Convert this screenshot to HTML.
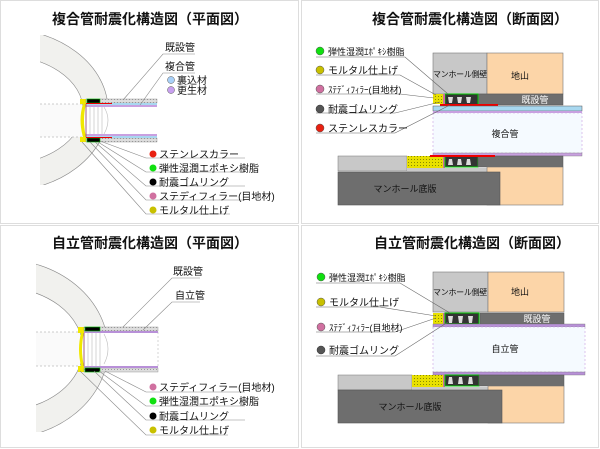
<!DOCTYPE html>
<html><head><meta charset="utf-8"><style>
html,body{margin:0;padding:0;background:#fff}
svg{display:block}
text{font-family:"Liberation Sans","Noto Sans CJK JP",sans-serif;}
.t{font-size:14px;font-weight:bold;fill:#111;text-anchor:middle}
.l{font-size:10px;fill:#111}
.s{font-size:9px;fill:#111}
.m{font-size:8px;fill:#111;letter-spacing:-0.3px}
</style></head><body>
<svg width="600" height="449" viewBox="0 0 600 449" xmlns="http://www.w3.org/2000/svg">
<defs>
<pattern id="hy" width="3" height="3" patternUnits="userSpaceOnUse"><rect width="3" height="3" fill="#e8e000"/><rect width="1" height="1" fill="#8a8a00"/></pattern>
<pattern id="gr" width="3" height="3" patternUnits="userSpaceOnUse"><rect width="3" height="3" fill="#ddd"/><rect width="1" height="1" fill="#999"/></pattern>
</defs>
<rect x="0.5" y="0.5" width="298" height="223" fill="#fff" stroke="#ddd"/>
<rect x="301.5" y="0.5" width="297" height="223" fill="#fff" stroke="#ddd"/>
<rect x="0.5" y="225.5" width="298" height="222" fill="#fff" stroke="#ddd"/>
<rect x="301.5" y="225.5" width="297" height="222" fill="#fff" stroke="#ddd"/>

<!-- TOP LEFT -->
<text class="t" x="150" y="24">複合管耐震化構造図（平面図）</text>
<clipPath id="c1"><rect x="40" y="35" width="200" height="150"/></clipPath>
<g clip-path="url(#c1)">
<ellipse cx="0" cy="110" rx="108" ry="82" fill="#f1f1ee" stroke="#888" stroke-width="0.6"/>
<ellipse cx="0" cy="110" rx="83" ry="55" fill="#fff" stroke="#888" stroke-width="0.6"/>
</g>
<rect x="40" y="104" width="42" height="33" fill="#fafafa"/>
<line x1="40" y1="104" x2="82" y2="104" stroke="#999" stroke-dasharray="2,2" stroke-width="0.6"/>
<line x1="40" y1="137" x2="82" y2="137" stroke="#999" stroke-dasharray="2,2" stroke-width="0.6"/>
<rect x="83" y="104" width="74" height="33" fill="#fff"/>
<path d="M83 104 Q78 120 83 137 L86 137 Q82 120 86 104Z" fill="#f0e800"/>
<rect x="80" y="99" width="6" height="5" fill="#f0e800"/><rect x="80" y="137" width="6" height="5" fill="#f0e800"/>
<rect x="86" y="99" width="71" height="4" fill="url(#gr)" stroke="#888" stroke-width="0.4"/>
<rect x="86" y="138" width="71" height="4" fill="url(#gr)" stroke="#888" stroke-width="0.4"/>
<rect x="86" y="103" width="71" height="2" fill="#a8d8f0"/><rect x="86" y="105" width="71" height="2" fill="#c8a0e0"/>
<rect x="86" y="134" width="71" height="2" fill="#c8a0e0"/><rect x="86" y="136" width="71" height="2" fill="#a8d8f0"/>
<rect x="87" y="99" width="13" height="4" fill="#000" stroke="#0c0" stroke-width="0.6"/>
<rect x="87" y="138" width="13" height="4" fill="#000" stroke="#0c0" stroke-width="0.6"/>
<line x1="86" y1="103.5" x2="112" y2="103.5" stroke="#e00" stroke-width="1"/>
<line x1="86" y1="137.5" x2="112" y2="137.5" stroke="#e00" stroke-width="1"/>
<g stroke="#bbb" stroke-width="0.6"><line x1="90" y1="107" x2="90" y2="134"/><line x1="94" y1="107" x2="94" y2="134"/><line x1="98" y1="107" x2="98" y2="134"/><line x1="102" y1="107" x2="102" y2="134"/></g>
<line x1="86" y1="104" x2="86" y2="137" stroke="#a06080" stroke-width="1"/>
<path d="M104 107 Q112 120 104 134" fill="none" stroke="#bbb" stroke-width="0.6"/>
<g stroke="#888" stroke-width="0.6" fill="none">
<polyline points="123,100 163,54 195,54"/>
<polyline points="140,105 163,73 195,73"/>
<polyline points="100,141 146,158 245,158"/>
<polyline points="98,142 146,172 245,172"/>
<polyline points="95,142 146,186 245,186"/>
<polyline points="90,142 146,200 245,200"/>
<polyline points="82,142 146,214 230,214"/>
</g>
<text class="l" x="165" y="51">既設管</text>
<text class="l" x="165" y="70">複合管</text>
<circle cx="171" cy="80" r="3.5" fill="#a8d0f8" stroke="#555" stroke-width="0.5"/><text class="l" x="177" y="84">裏込材</text>
<circle cx="171" cy="90" r="3.5" fill="#c8a0f0" stroke="#555" stroke-width="0.5"/><text class="l" x="177" y="94">更生材</text>
<circle cx="153" cy="154" r="3.5" fill="#e82010"/><text class="l" x="159" y="158">ステンレスカラー</text>
<circle cx="153" cy="168" r="3.5" fill="#10e010"/><text class="l" x="159" y="172">弾性湿潤エポキシ樹脂</text>
<circle cx="153" cy="182" r="3.5" fill="#000"/><text class="l" x="159" y="186">耐震ゴムリング</text>
<circle cx="153" cy="196" r="3.5" fill="#d070a0"/><text class="l" x="159" y="200">ステディフィラー(目地材)</text>
<circle cx="153" cy="210" r="3.5" fill="#c8c000"/><text class="l" x="159" y="214">モルタル仕上げ</text>

<!-- TOP RIGHT -->
<text class="t" x="470" y="24">複合管耐震化構造図（断面図）</text>
<rect x="433" y="53" width="54" height="41" fill="#c8c8c8" stroke="#777" stroke-width="0.6"/>
<text class="m" x="460" y="77" text-anchor="middle">マンホール側壁</text>
<rect x="487" y="53" width="76" height="41" fill="#fcd5a8" stroke="#777" stroke-width="0.6"/>
<text class="s" x="520" y="79" text-anchor="middle">地山</text>
<rect x="478" y="94" width="85" height="11" fill="#6e6e6e" stroke="#555" stroke-width="0.5"/>
<text class="s" x="535" y="103" text-anchor="middle" style="fill:#fff">既設管</text>
<rect x="445" y="94" width="33" height="11" fill="#333" stroke="#0c0" stroke-width="1"/>
<rect x="433" y="94" width="10" height="10" fill="url(#hy)"/>
<rect x="443" y="94" width="2" height="10" fill="#d070a0"/>
<rect x="440" y="104" width="58" height="2" fill="#e00"/>
<rect x="433" y="106" width="149" height="5" fill="#a8d8f0" stroke="#555" stroke-width="0.5"/>
<rect x="433" y="111" width="149" height="2" fill="#c8a0e0"/>
<rect x="433" y="113" width="149" height="40" fill="#f5faff" stroke="#c8a0e0" stroke-dasharray="2,2" stroke-width="0.6"/>
<text class="s" x="505" y="137" text-anchor="middle">複合管</text>
<rect x="433" y="153" width="149" height="3" fill="#c8a0e0" stroke="#777" stroke-width="0.4"/>
<rect x="338" y="156" width="69" height="15" fill="#c8c8c8" stroke="#777" stroke-width="0.5"/>
<rect x="407" y="156" width="36" height="12" fill="url(#hy)"/>
<rect x="443" y="156" width="2" height="12" fill="#d070a0"/>
<rect x="445" y="156" width="33" height="11" fill="#333" stroke="#0c0" stroke-width="1"/>
<rect x="478" y="156" width="85" height="11" fill="#6e6e6e" stroke="#555" stroke-width="0.5"/>
<rect x="430" y="155" width="65" height="2" fill="#e00"/>
<rect x="407" y="168" width="80" height="4" fill="#c8c8c8"/>
<rect x="487" y="167" width="76" height="38" fill="#fcd5a8" stroke="#777" stroke-width="0.6"/>
<rect x="338" y="172" width="162" height="33" fill="#6e6e6e" stroke="#555" stroke-width="0.6"/>
<text class="s" x="405" y="192" text-anchor="middle">マンホール底版</text>
<g fill="#ddd"><path d="M448 97 l5 0 l-1 6 l-3 0z"/><path d="M457 97 l5 0 l-1 6 l-3 0z"/><path d="M466 97 l5 0 l-1 6 l-3 0z"/>
<path d="M448 165 l5 0 l-1 -6 l-3 0z"/><path d="M457 165 l5 0 l-1 -6 l-3 0z"/><path d="M466 165 l5 0 l-1 -6 l-3 0z"/></g>
<g stroke="#666" stroke-width="0.6" fill="none">
<polyline points="316,57 405,57 448,94"/>
<polyline points="316,75 400,75 436,95"/>
<polyline points="316,94 400,94 434,98"/>
<polyline points="316,113 395,113 440,102"/>
<polyline points="316,133 395,133 450,105"/>
</g>
<circle cx="320" cy="51" r="4" fill="#10e010" stroke="#555" stroke-width="0.5"/><text class="s" x="328" y="55">弾性湿潤ｴﾎﾟｷｼ樹脂</text>
<circle cx="320" cy="70" r="4" fill="#c8c000" stroke="#555" stroke-width="0.5"/><text class="l" x="328" y="74">モルタル仕上げ</text>
<circle cx="320" cy="89" r="4" fill="#d070a0" stroke="#555" stroke-width="0.5"/><text class="s" x="328" y="93">ｽﾃﾃﾞｨﾌｨﾗｰ(目地材)</text>
<circle cx="320" cy="109" r="4" fill="#555" stroke="#333" stroke-width="0.5"/><text class="l" x="328" y="113">耐震ゴムリング</text>
<circle cx="320" cy="128" r="4" fill="#e82010" stroke="#555" stroke-width="0.5"/><text class="l" x="328" y="132">ステンレスカラー</text>

<!-- BOTTOM LEFT -->
<text class="t" x="150" y="248">自立管耐震化構造図（平面図）</text>
<clipPath id="c3"><rect x="36" y="260" width="200" height="172"/></clipPath>
<g clip-path="url(#c3)">
<ellipse cx="0" cy="349" rx="108" ry="90" fill="#f1f1ee" stroke="#888" stroke-width="0.6"/>
<ellipse cx="0" cy="349" rx="83" ry="62" fill="#fff" stroke="#888" stroke-width="0.6"/>
</g>
<rect x="36" y="332" width="44" height="34" fill="#fafafa"/>
<line x1="36" y1="332" x2="80" y2="332" stroke="#999" stroke-dasharray="2,2" stroke-width="0.6"/>
<line x1="36" y1="366" x2="80" y2="366" stroke="#999" stroke-dasharray="2,2" stroke-width="0.6"/>
<rect x="81" y="332" width="77" height="34" fill="#fff"/>
<line x1="158" y1="332" x2="158" y2="366" stroke="#bbb" stroke-dasharray="2,2" stroke-width="0.6"/>
<path d="M81 333 Q77 349 81 366 L84 366 Q80 349 84 333Z" fill="#f0e800"/>
<rect x="78" y="327" width="6" height="6" fill="#f0e800"/><rect x="78" y="366" width="6" height="6" fill="#f0e800"/>
<rect x="84" y="327" width="74" height="4" fill="url(#gr)" stroke="#888" stroke-width="0.4"/>
<rect x="84" y="368" width="74" height="4" fill="url(#gr)" stroke="#888" stroke-width="0.4"/>
<rect x="84" y="331" width="74" height="2" fill="#b890d8"/><rect x="84" y="366" width="74" height="2" fill="#b890d8"/>
<rect x="85" y="327" width="15" height="4" fill="#000" stroke="#0c0" stroke-width="0.6"/>
<rect x="85" y="368" width="15" height="4" fill="#000" stroke="#0c0" stroke-width="0.6"/>
<g stroke="#bbb" stroke-width="0.6"><line x1="88" y1="333" x2="88" y2="366"/><line x1="92" y1="333" x2="92" y2="366"/><line x1="96" y1="333" x2="96" y2="366"/><line x1="100" y1="333" x2="100" y2="366"/></g>
<line x1="84" y1="333" x2="84" y2="366" stroke="#a06080" stroke-width="1"/>
<path d="M104 334 Q112 349 104 364" fill="none" stroke="#bbb" stroke-width="0.6"/>
<g stroke="#888" stroke-width="0.6" fill="none">
<polyline points="123,327 172,278 200,278"/>
<polyline points="143,330 172,302 200,302"/>
<polyline points="105,371 146,392 245,392"/>
<polyline points="99,371 146,406 245,406"/>
<polyline points="94,371 146,420 245,420"/>
<polyline points="80,371 146,435 228,435"/>
</g>
<text class="l" x="173" y="275">既設管</text>
<text class="l" x="175" y="299">自立管</text>
<circle cx="153" cy="387" r="3.5" fill="#d070a0"/><text class="l" x="159" y="391">ステディフィラー(目地材)</text>
<circle cx="153" cy="401" r="3.5" fill="#10e010"/><text class="l" x="159" y="405">弾性湿潤エポキシ樹脂</text>
<circle cx="153" cy="416" r="3.5" fill="#000"/><text class="l" x="159" y="420">耐震ゴムリング</text>
<circle cx="153" cy="430" r="3.5" fill="#c8c000"/><text class="l" x="159" y="434">モルタル仕上げ</text>

<!-- BOTTOM RIGHT -->
<text class="t" x="472" y="248">自立管耐震化構造図（断面図）</text>
<rect x="433" y="272" width="55" height="40" fill="#c8c8c8" stroke="#777" stroke-width="0.6"/>
<text class="m" x="460" y="295" text-anchor="middle">マンホール側壁</text>
<rect x="488" y="272" width="76" height="40" fill="#fcd5a8" stroke="#777" stroke-width="0.6"/>
<text class="s" x="520" y="295" text-anchor="middle">地山</text>
<rect x="480" y="313" width="84" height="11" fill="#6e6e6e" stroke="#555" stroke-width="0.5"/>
<text class="s" x="537" y="322" text-anchor="middle" style="fill:#fff">既設管</text>
<rect x="433" y="313" width="10" height="11" fill="url(#hy)"/>
<rect x="443" y="313" width="2" height="11" fill="#d070a0"/>
<rect x="445" y="313" width="34" height="11" fill="#333" stroke="#0c0" stroke-width="1"/>
<rect x="433" y="324" width="152" height="3" fill="#b890d8" stroke="#777" stroke-width="0.4"/>
<rect x="433" y="327" width="152" height="45" fill="#f5faff" stroke="#c8a0e0" stroke-dasharray="2,2" stroke-width="0.6"/>
<text class="s" x="505" y="352" text-anchor="middle">自立管</text>
<rect x="433" y="372" width="152" height="3" fill="#b890d8" stroke="#777" stroke-width="0.4"/>
<rect x="338" y="375" width="74" height="15" fill="#c8c8c8" stroke="#777" stroke-width="0.5"/>
<rect x="412" y="375" width="31" height="12" fill="url(#hy)"/>
<rect x="443" y="375" width="2" height="12" fill="#d070a0"/>
<rect x="445" y="375" width="34" height="11" fill="#333" stroke="#0c0" stroke-width="1"/>
<rect x="479" y="375" width="85" height="11" fill="#6e6e6e" stroke="#555" stroke-width="0.5"/>
<rect x="412" y="387" width="76" height="3" fill="#c8c8c8"/>
<rect x="488" y="386" width="76" height="37" fill="#fcd5a8" stroke="#777" stroke-width="0.6"/>
<rect x="338" y="390" width="164" height="33" fill="#6e6e6e" stroke="#555" stroke-width="0.6"/>
<text class="s" x="410" y="410" text-anchor="middle">マンホール底版</text>
<g fill="#ddd"><path d="M448 316 l5 0 l-1 7 l-3 0z"/><path d="M458 316 l5 0 l-1 7 l-3 0z"/><path d="M468 316 l5 0 l-1 7 l-3 0z"/>
<path d="M448 384 l5 0 l-1 -7 l-3 0z"/><path d="M458 384 l5 0 l-1 -7 l-3 0z"/><path d="M468 384 l5 0 l-1 -7 l-3 0z"/></g>
<g stroke="#666" stroke-width="0.6" fill="none">
<polyline points="316,283 400,283 450,313"/>
<polyline points="316,307 380,307 436,316"/>
<polyline points="316,332 395,332 436,318"/>
<polyline points="316,356 395,356 448,322"/>
</g>
<circle cx="321" cy="277" r="4" fill="#10e010" stroke="#555" stroke-width="0.5"/><text class="s" x="329" y="281">弾性湿潤ｴﾎﾟｷｼ樹脂</text>
<circle cx="321" cy="302" r="4" fill="#c8c000" stroke="#555" stroke-width="0.5"/><text class="l" x="329" y="306">モルタル仕上げ</text>
<circle cx="321" cy="327" r="4" fill="#d070a0" stroke="#555" stroke-width="0.5"/><text class="s" x="329" y="331">ｽﾃﾃﾞｨﾌｨﾗｰ(目地材)</text>
<circle cx="321" cy="350" r="4" fill="#555" stroke="#333" stroke-width="0.5"/><text class="l" x="329" y="354">耐震ゴムリング</text>
</svg>
</body></html>
